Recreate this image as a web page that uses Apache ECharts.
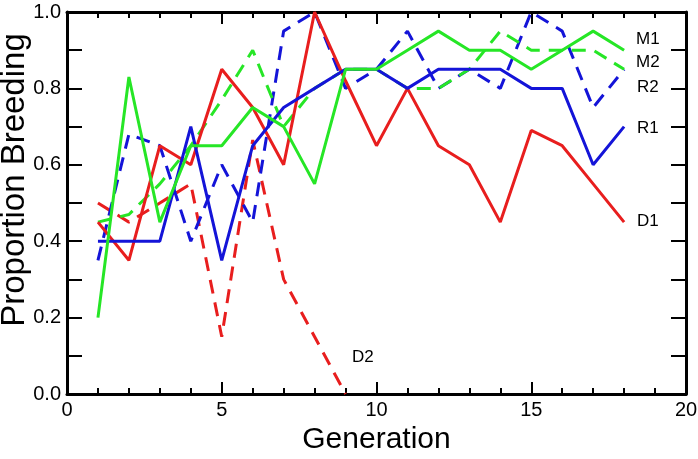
<!DOCTYPE html>
<html lang="en">
<head>
    <meta charset="UTF-8">
    <title>Proportion Breeding</title>
    <script src="https://cdn.jsdelivr.net/npm/echarts@6/dist/echarts.min.js"></script>
    <style>
        body { margin: 0; background: #fff; }
        #chart { width: 698px; height: 459px; }
    </style>
</head>
<body>
    <div id="chart"></div>
    <script>
        const generations = [1, 2, 3, 4, 5, 6, 7, 8, 9, 10, 11, 12, 13, 14, 15, 16, 17, 18];
        const m1 = [0.2, 0.83, 0.45, 0.65, 0.65, 0.75, 0.7, 0.55, 0.85, 0.85, 0.9, 0.95, 0.9, 0.9, 0.85, 0.9, 0.95, 0.9];
        const m2 = [0.45, 0.47, 0.55, 0.65, 0.77, 0.9, 0.7, 0.8, 0.85, 0.85, 0.8, 0.8, 0.85, 0.95, 0.9, 0.9, 0.9, 0.85];
        const r1 = [0.4, 0.4, 0.4, 0.7, 0.35, 0.65, 0.75, 0.8, 0.85, 0.85, 0.8, 0.85, 0.85, 0.85, 0.8, 0.8, 0.6, 0.7];
        const r2 = [0.35, 0.68, 0.65, 0.4, 0.6, 0.45, 0.95, 1.0, 0.8, 0.85, 0.95, 0.8, 0.85, 0.8, 1.0, 0.95, 0.75, 0.85];
        const d1 = [0.45, 0.35, 0.65, 0.6, 0.85, 0.75, 0.6, 1.0, 0.82, 0.65, 0.8, 0.65, 0.6, 0.45, 0.69, 0.65, 0.55, 0.45];
        const d2 = [0.5, 0.45, 0.5, 0.55, 0.15, 0.665, 0.3, 0.15, 0.0];
        const yTicks = ['0.0', '0.2', '0.4', '0.6', '0.8', '1.0'];

        const red = '#e81e1e';
        const blue = '#1414d8';
        const green = '#26e626';
        const dash = [14, 9];
        const font = 'Liberation Sans';

        function pairs(vals) {
            return vals.map((v, i) => [generations[i], v]);
        }

        function line(name, vals, color, dashed) {
            return {
                name: name,
                type: 'line',
                data: pairs(vals),
                symbol: 'none',
                silent: true,
                lineStyle: { color: color, width: 3, type: dashed ? dash : 'solid' },
                z: 3
            };
        }

        const tickCommon = {
            axisLine: { show: true, onZero: false, lineStyle: { color: '#000', width: 3 } },
            splitLine: { show: false }
        };

        function xAxis(pos, showLabel) {
            return Object.assign({
                type: 'value', position: pos, min: 0, max: 20, interval: 5,
                name: showLabel ? 'Generation' : '', nameLocation: 'middle', nameGap: 29,
                nameTextStyle: { color: '#000', fontSize: 30, fontFamily: font },
                axisTick: { show: true, inside: true, length: 12, lineStyle: { color: '#000', width: 2 } },
                minorTick: { show: true, splitNumber: 5, length: 6, lineStyle: { color: '#000', width: 2 } },
                axisLabel: { show: showLabel, color: '#000', fontSize: 20, margin: 6, fontFamily: font }
            }, tickCommon);
        }

        function yAxis(pos, showLabel) {
            return Object.assign({
                type: 'value', position: pos, min: 0, max: 1, interval: 0.2,
                axisTick: { show: true, inside: true, length: 15, lineStyle: { color: '#000', width: 2 } },
                minorTick: { show: true, splitNumber: 2, length: 15, lineStyle: { color: '#000', width: 2 } },
                axisLabel: {
                    show: showLabel, color: '#000', fontSize: 20, margin: 6, fontFamily: font,
                    formatter: v => yTicks[Math.round(v * 5)]
                }
            }, tickCommon);
        }

        function tag(text, x, y) {
            return {
                type: 'text', x: x, y: y,
                style: { text: text, fill: '#000', fontSize: 17, fontFamily: font, verticalAlign: 'middle' }
            };
        }

        const chart = echarts.init(document.getElementById('chart'));
        chart.setOption({
            animation: false,
            grid: { left: 67, right: 12, top: 12, bottom: 65, containLabel: false, outerBoundsMode: 'none' },
            xAxis: [xAxis('bottom', true), xAxis('top', false)],
            yAxis: [yAxis('left', true), yAxis('right', false)],
            series: [
                line('D2', d2, red, true),
                line('R2', r2, blue, true),
                line('M2', m2, green, true),
                line('D1', d1, red, false),
                line('R1', r1, blue, false),
                line('M1', m1, green, false)
            ],
            graphic: [
                tag('M1', 636, 39),
                tag('M2', 636, 62),
                tag('R2', 637, 87),
                tag('R1', 637, 128),
                tag('D1', 637, 221),
                tag('D2', 352, 357),
                {
                    type: 'text', x: 15, y: 180, rotation: Math.PI / 2,
                    style: {
                        text: 'Proportion Breeding', fill: '#000', fontSize: 33, fontFamily: font,
                        align: 'center', verticalAlign: 'middle'
                    }
                }
            ]
        });
    </script>
</body>
</html>
